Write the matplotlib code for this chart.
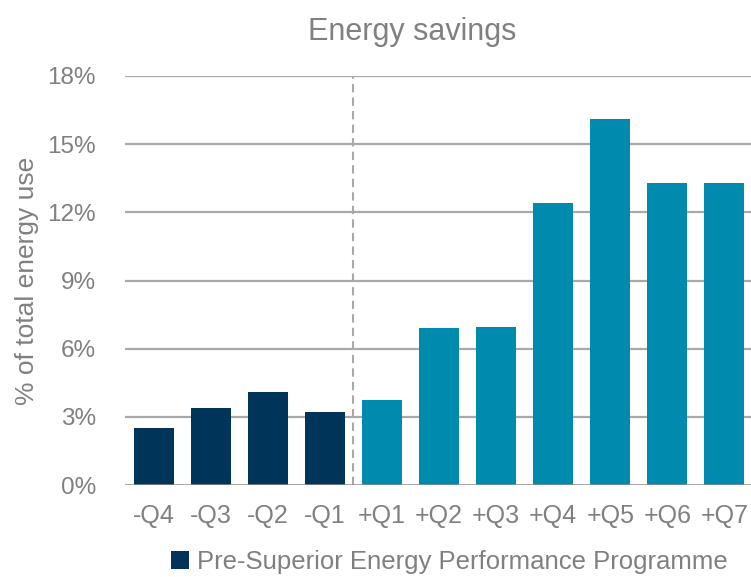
import matplotlib.pyplot as plt
from matplotlib.patches import Patch

plt.rcParams['font.family'] = ['Liberation Sans', 'DejaVu Sans']

# data
quarters = ["-Q4", "-Q3", "-Q2", "-Q1", "+Q1", "+Q2", "+Q3", "+Q4", "+Q5", "+Q6", "+Q7"]
savings = [2.5, 3.38, 4.08, 3.2, 3.72, 6.9, 6.95, 12.4, 16.12, 13.28, 13.28]
is_pre = [True, True, True, True, False, False, False, False, False, False, False]
y_ticks = [0, 3, 6, 9, 12, 15, 18]

navy = "#003459"
teal = "#008aad"
grey_text = "#808080"
grid_col = "#a9a9a9"

fig = plt.figure(figsize=(7.51, 5.77), dpi=100)
ax = fig.add_axes([125 / 751, 92 / 577, 628 / 751, 409 / 577])

colors = [navy if p else teal for p in is_pre]
x = list(range(len(quarters)))
ax.bar(x, savings, width=0.7, color=colors, zorder=3)

ax.set_xlim(-0.5, len(quarters) - 0.5)
ax.set_ylim(0, 18)
ax.set_yticks(y_ticks)
ax.set_yticklabels([f"{v}%" for v in y_ticks])
ax.set_xticks(x)
ax.set_xticklabels(quarters)

for v in y_ticks[1:]:
    ax.axhline(v, color=grid_col, lw=1.6, zorder=1)
ax.axhline(0, color="#8c8c8c", lw=1.8, zorder=4)

# split between pre and post programme
ax.axvline(3.5, color=grid_col, lw=1.5, ls=(0, (4, 2.5)), zorder=2)

for s in ax.spines.values():
    s.set_visible(False)
ax.tick_params(axis='y', length=0, labelsize=17.5, colors=grey_text, pad=21)
ax.tick_params(axis='x', length=0, labelsize=18, colors=grey_text, pad=14)

ax.set_ylabel("% of total energy use", fontsize=19, color=grey_text, labelpad=6)
ax.set_title("Energy savings", fontsize=22, color=grey_text, pad=26, x=0.457)

handles = [Patch(facecolor=navy, label="Pre-Superior Energy Performance Programme")]
fig.legend(handles=handles, loc='upper left', bbox_to_anchor=(158 / 751, 1 - 537 / 577),
           frameon=False, fontsize=18.5, labelcolor=grey_text, borderpad=0,
           handlelength=0.72, handleheight=0.72, handletextpad=0.3)

fig.savefig("out.png", dpi=100)
